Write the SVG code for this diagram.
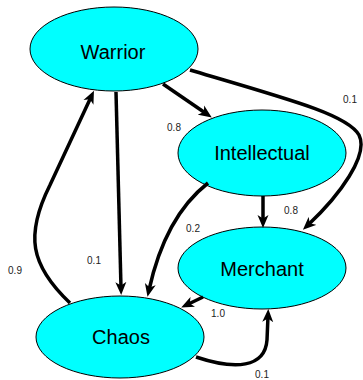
<svg xmlns="http://www.w3.org/2000/svg" width="363" height="380" viewBox="0 0 363 380">
<style>
.node ellipse{fill:#00ffff;stroke:#000;stroke-width:1}
.node text{font-family:"Liberation Sans",Arial,sans-serif;font-size:20px;fill:#000;text-anchor:middle}
.edge{fill:none;stroke:#000;stroke-width:3.5;marker-end:url(#arr)}
.lbl{font-family:"Liberation Sans",Arial,sans-serif;font-size:10px;fill:#222;text-anchor:middle}
</style>
<defs>
<marker id="arr" markerUnits="userSpaceOnUse" viewBox="0 0 13 12" markerWidth="13" markerHeight="12" refX="6" refY="6" orient="auto">
<path d="M0,0.5 L13,6 L0,11.5 L3.5,6 z" fill="#000"/>
</marker>
</defs>
<rect width="363" height="380" fill="#fff"/>
<g id="nodes">
<g id="warrior" class="node"><ellipse cx="114" cy="49" rx="84" ry="42"/><text x="113" y="59">Warrior</text></g>
<g id="intellectual" class="node"><ellipse cx="262" cy="153" rx="84" ry="43"/><text x="262" y="160">Intellectual</text></g>
<g id="merchant" class="node"><ellipse cx="262" cy="268" rx="84" ry="41"/><text x="262" y="276">Merchant</text></g>
<g id="chaos" class="node"><ellipse cx="120" cy="337" rx="84" ry="41"/><text x="121" y="344">Chaos</text></g>
</g>
<g id="connectors">
<path class="edge" d="M163,84 L206,113.5"/>
<path class="edge" d="M116,92 L121,288"/>
<path class="edge" d="M70,303 C30,265 25,235 50,185 L91,97"/>
<path class="edge" d="M190,70 C292,100 348,115 359,135 C369,155 340,195 308,225"/>
<path class="edge" d="M263,196 L263,221"/>
<path class="edge" d="M208,183 C180,205 160,240 149,290"/>
<path class="edge" d="M203,297 L187.5,304.5"/>
<path class="edge" d="M196,357 C235,370 265,368 267,340 L268,316"/>
<text class="lbl" x="350" y="103">0.1</text>
<text class="lbl" x="174" y="131">0.8</text>
<text class="lbl" x="291" y="214">0.8</text>
<text class="lbl" x="193" y="232">0.2</text>
<text class="lbl" x="94" y="264">0.1</text>
<text class="lbl" x="15" y="274">0.9</text>
<text class="lbl" x="218" y="317">1.0</text>
<text class="lbl" x="262" y="378">0.1</text>
</g>
</svg>
